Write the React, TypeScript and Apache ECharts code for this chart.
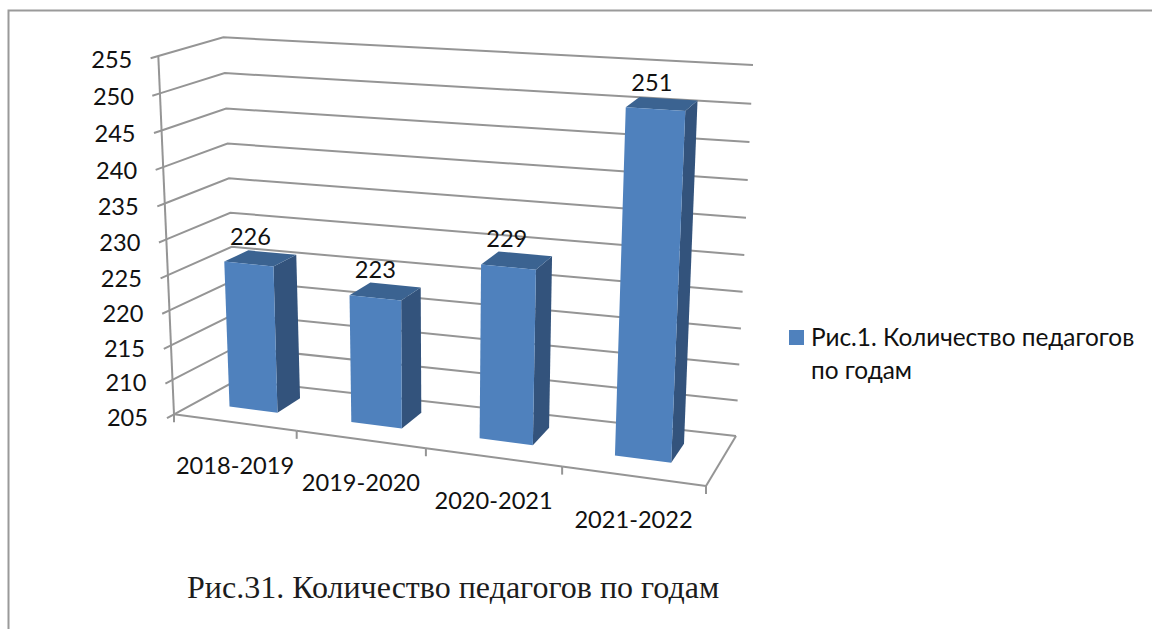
import React, { useEffect, useRef } from "react";
import * as echarts from "echarts";

const categories = ["2018-2019", "2019-2020", "2020-2021", "2021-2022"];
const values = [226, 223, 229, 251];
const yTicks = [205, 210, 215, 220, 225, 230, 235, 240, 245, 250, 255];
const seriesName = "Рис.1. Количество педагогов по годам";
const legendLines = ["Рис.1. Количество педагогов", "по годам"];
const caption = "Рис.31. Количество педагогов по годам";

const yMin = 205;
const yMax = 255;

type P = [number, number];
// the eight corners of the plot box on the screen
const FBL: P = [174, 414.3], FBR: P = [706, 486], BBL: P = [237, 380], BBR: P = [736, 436];
const FTL: P = [158.3, 56], FTR: P = [725, 90.6], BTL: P = [223.3, 37.3], BTR: P = [753, 65];
const PERSP = 1.112, PERSP_V = 1.049;
const Z0 = 0.35, Z1 = 0.74, BAR_SHARE = 0.4, BAR_SHIFT = -0.004;
const GRID = "#959595";
const TEXT = "#111111";
const UI_FONT = "Lato";
const TICK_FONT = 23.6;

const lerp = (a: P, b: P, t: number): P => [a[0] + (b[0] - a[0]) * t, a[1] + (b[1] - a[1]) * t];
const warp = (u: number, k: number) => u / (u + k * (1 - u));
function project(u: number, z: number, v: number): P {
  const t = warp(u, PERSP);
  const bottom = lerp(lerp(FBL, FBR, t), lerp(BBL, BBR, t), z);
  const top = lerp(lerp(FTL, FTR, t), lerp(BTL, BTR, t), z);
  return lerp(bottom, top, warp(v, PERSP_V));
}
const line = (pts: P[], width = 2) => ({
  type: "polyline",
  silent: true,
  shape: { points: pts },
  style: { stroke: GRID, lineWidth: width, fill: "none" },
});
const label = (text: string, x: number, y: number, align: string) => ({
  type: "text",
  silent: true,
  style: { text, x, y, align, verticalAlign: "middle", fill: TEXT, fontSize: TICK_FONT, fontFamily: UI_FONT },
});
const toUV = (cs: any, p: number[]): P => [(p[0] - cs.x) / cs.width, 1 - (p[1] - cs.y) / cs.height];

export default function App() {
  const ref = useRef<HTMLDivElement>(null);
  useEffect(() => {
    const chart = echarts.init(ref.current!, undefined, { renderer: "svg" });
    chart.setOption({
      animation: false,
      backgroundColor: "#ffffff",
      grid: { left: 100, top: 50, width: 600, height: 400 },
      xAxis: { type: "category", data: categories, show: false },
      yAxis: { type: "value", min: yMin, max: yMax, interval: 5, show: false },
      title: {
        text: caption,
        left: 187,
        top: 571,
        padding: 0,
        textStyle: { fontFamily: "Liberation Serif", fontSize: 32, fontWeight: "normal", color: "#1c1c1c" },
      },
      graphic: [
        { type: "polyline", silent: true, shape: { points: [[8.5, 629], [8.5, 10.5], [1152, 10.5]] }, style: { stroke: "#9a9a9a", lineWidth: 2, fill: "none" } },
        { type: "rect", silent: true, shape: { x: 789, y: 330, width: 15, height: 15 }, style: { fill: "#4f81bd" } },
        {
          type: "text",
          silent: true,
          style: {
            x: 811,
            y: 320,
            text: legendLines.join("\n"),
            fill: TEXT,
            fontSize: 24.4,
            lineHeight: 33,
            fontFamily: UI_FONT,
          },
        },
      ],
      series: [
        {
          // value axis: walls, gridlines, ticks, tick labels
          type: "custom",
          name: "axis",
          coordinateSystem: "cartesian2d",
          silent: true,
          data: yTicks.map((t) => [0, t]),
          renderItem: (params: any, api: any) => {
            const tick = api.value(1);
            const v = toUV(params.coordSys, api.coord([0, tick]))[1];
            const fl = project(0, 0, v), bl = project(0, 1, v), br = project(1, 1, v);
            const dir = [bl[0] - fl[0], bl[1] - fl[1]];
            const n = Math.hypot(dir[0], dir[1]);
            const end: P = [fl[0] - (dir[0] / n) * 8, fl[1] - (dir[1] / n) * 8];
            return {
              type: "group",
              children: [
                line([end, fl, bl, br]),
                label(String(tick), fl[0] - 26, fl[1] + 2.5, "right"),
              ],
            };
          },
        },
        {
          // category axis: front edges, ticks, labels
          type: "custom",
          name: "categories",
          coordinateSystem: "cartesian2d",
          silent: true,
          data: categories.map((_, i) => [i, yMin]),
          renderItem: (params: any, api: any) => {
            const i = api.value(0);
            const cs = params.coordSys;
            const uc = toUV(cs, api.coord([i, yMin]))[0];
            const du = api.size([1, 0])[0] / cs.width;
            const c = project(uc, 0, 0);
            const a = project(uc - du / 2, 0, 0), b = project(uc + du / 2, 0, 0);
            const kids: any[] = [
              line([a, b]),
              line([b, [b[0], b[1] + 8]]),
              label(categories[i], c[0] + 0.5, c[1] + 43, "center"),
            ];
            if (i === 0) {
              kids.push(line([a, [a[0], a[1] + 8]]));
              kids.push(line([project(0, 0, 0), project(0, 0, 1)]));
            }
            if (i === categories.length - 1) kids.push(line([project(1, 0, 0), project(1, 1, 0)]));
            return { type: "group", children: kids };
          },
        },
        {
          type: "custom",
          name: seriesName,
          coordinateSystem: "cartesian2d",
          data: values.map((val, i) => [i, val]),
          renderItem: (params: any, api: any) => {
            const i = api.value(0);
            const cs = params.coordSys;
            const u = toUV(cs, api.coord([i, yMin]))[0] + BAR_SHIFT;
            const v = toUV(cs, api.coord([i, api.value(1)]))[1];
            const hw = (api.size([1, 0])[0] / cs.width) * BAR_SHARE * 0.5;
            const corner = (du: number, z: number, vv: number) => project(u + du * hw, z, vv);
            const poly = (pts: P[], fill: string) => ({ type: "polygon", shape: { points: pts }, style: { fill } });
            const topC = project(u, (Z0 + Z1) / 2, v);
            return {
              type: "group",
              children: [
                poly([corner(1, Z0, 0), corner(1, Z1, 0), corner(1, Z1, v), corner(1, Z0, v)], "#33537c"),
                poly([corner(-1, Z0, v), corner(1, Z0, v), corner(1, Z1, v), corner(-1, Z1, v)], "#3b6391"),
                poly([corner(-1, Z0, 0), corner(1, Z0, 0), corner(1, Z0, v), corner(-1, Z0, v)], "#4f81bd"),
                label(String(api.value(1)), topC[0] - 10, topC[1] - 22, "center"),
              ],
            };
          },
        },
      ],
    });
    return () => chart.dispose();
  }, []);
  return <div ref={ref} style={{ position: "absolute", left: 0, top: 0, width: 1152, height: 629 }} />;
}
